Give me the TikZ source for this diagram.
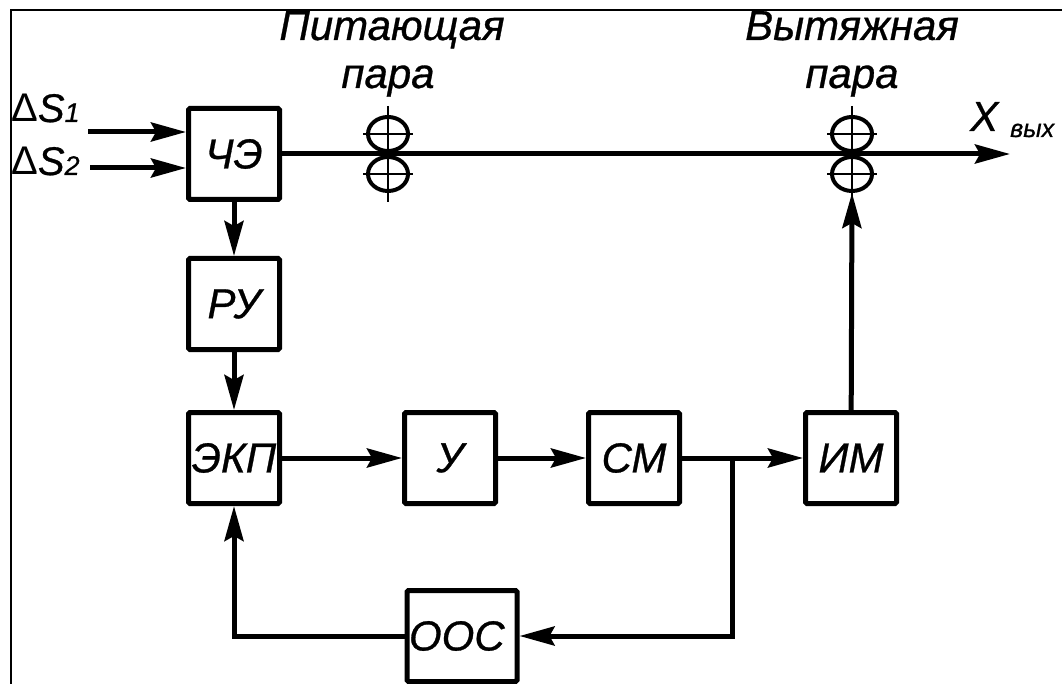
\documentclass[tikz,border=0pt]{standalone}
\usepackage{fontspec}
\setmainfont{Liberation Sans}[ItalicFeatures={FakeBold=0.7}]
\usetikzlibrary{arrows.meta}
\begin{document}
\begin{tikzpicture}[x=1pt,y=-1pt,
  blk/.style={draw,line width=5pt,minimum width=91pt,minimum height=91pt,inner sep=0pt,
    font=\fontsize{42}{46}\selectfont\itshape,rounded corners=1.5pt},
  conn/.style={line width=5pt},
  arr/.style={conn,-{Stealth[length=35pt,width=19pt,inset=5pt]}},
  lbl/.style={font=\fontsize{42}{46}\selectfont\itshape,anchor=base,inner sep=0pt},
  roll/.style={line width=4pt},
  frm/.style={line width=2pt}]
\useasboundingbox (0,0) rectangle (1062,684);
% frame
\draw[frm] (11,684) -- (11,10) -- (1062,10);
% blocks
\node[blk] (ce) at (234,154) {ЧЭ};
\node[blk] (ru) at (234,304) {РУ};
\node[blk] (ekp) at (234,458) {ЭКП};
\node[blk] (u) at (450,458) {У};
\node[blk] (cm) at (634,458) {СМ};
\node[blk] (im) at (851,458) {ИМ};
\node[blk,minimum width=110pt,text width=106pt,align=left] (ooc) at (462,636) {ООС};
% inputs
\coordinate (s1) at (88,132);
\coordinate (s2) at (90,168);
\node[anchor=base west,inner sep=0pt,font=\fontsize{40}{42}\selectfont] (ds1) at (11,122) {Δ\textit{S}{\fontsize{27}{29}\selectfont\textit{1}}};
\node[anchor=base west,inner sep=0pt,font=\fontsize{40}{42}\selectfont] (ds2) at (11,175) {Δ\textit{S}{\fontsize{27}{29}\selectfont\textit{2}}};
\draw[arr] (s1) -- (s1 -| ce.west);
\draw[arr] (s2) -- (s2 -| ce.west);
% main line
\coordinate (out) at (1010,154);
\draw[arr] (ce.east) -- (out);
% rollers
\foreach \x in {388,852}{
  \draw[roll] (\x,134) ellipse [x radius=20, y radius=17];
  \draw[roll] (\x,174) ellipse [x radius=20, y radius=17];
  \draw[line width=2pt] (\x-25,134) -- (\x+25,134);
  \draw[line width=2pt] (\x-25,174) -- (\x+25,174);
  \draw[line width=2pt] (\x,106) -- (\x,202);
}
\coordinate (dpb) at (852,193);
% labels
\node[lbl] (t1) at (392,40) {Питающая};
\node[lbl] (t2) at (388,88) {пара};
\node[lbl] (t3) at (852,40) {Вытяжная};
\node[lbl] (t4) at (852,88) {пара};
\node[anchor=base west,inner sep=0pt,font=\fontsize{42}{46}\selectfont\itshape] (xo) at (970,131) {X};
\node[anchor=base west,inner sep=0pt,font=\fontsize{25}{28}\selectfont\itshape] (vyh) at (1010,137) {вых};
% connections
\draw[arr] (ce) -- (ru);
\draw[arr] (ru) -- (ekp);
\draw[arr] (ekp) -- (u);
\draw[arr] (u) -- (cm);
\draw[arr] (cm) -- (im);
\draw[arr] (im) -- (dpb);
\coordinate (br) at (732,458);
\coordinate (bb) at (732,636);
\draw[arr] (br) -- (bb) -- (ooc.east);
\draw[arr] (ooc.west) -| (ekp.south);
\end{tikzpicture}
\end{document}
